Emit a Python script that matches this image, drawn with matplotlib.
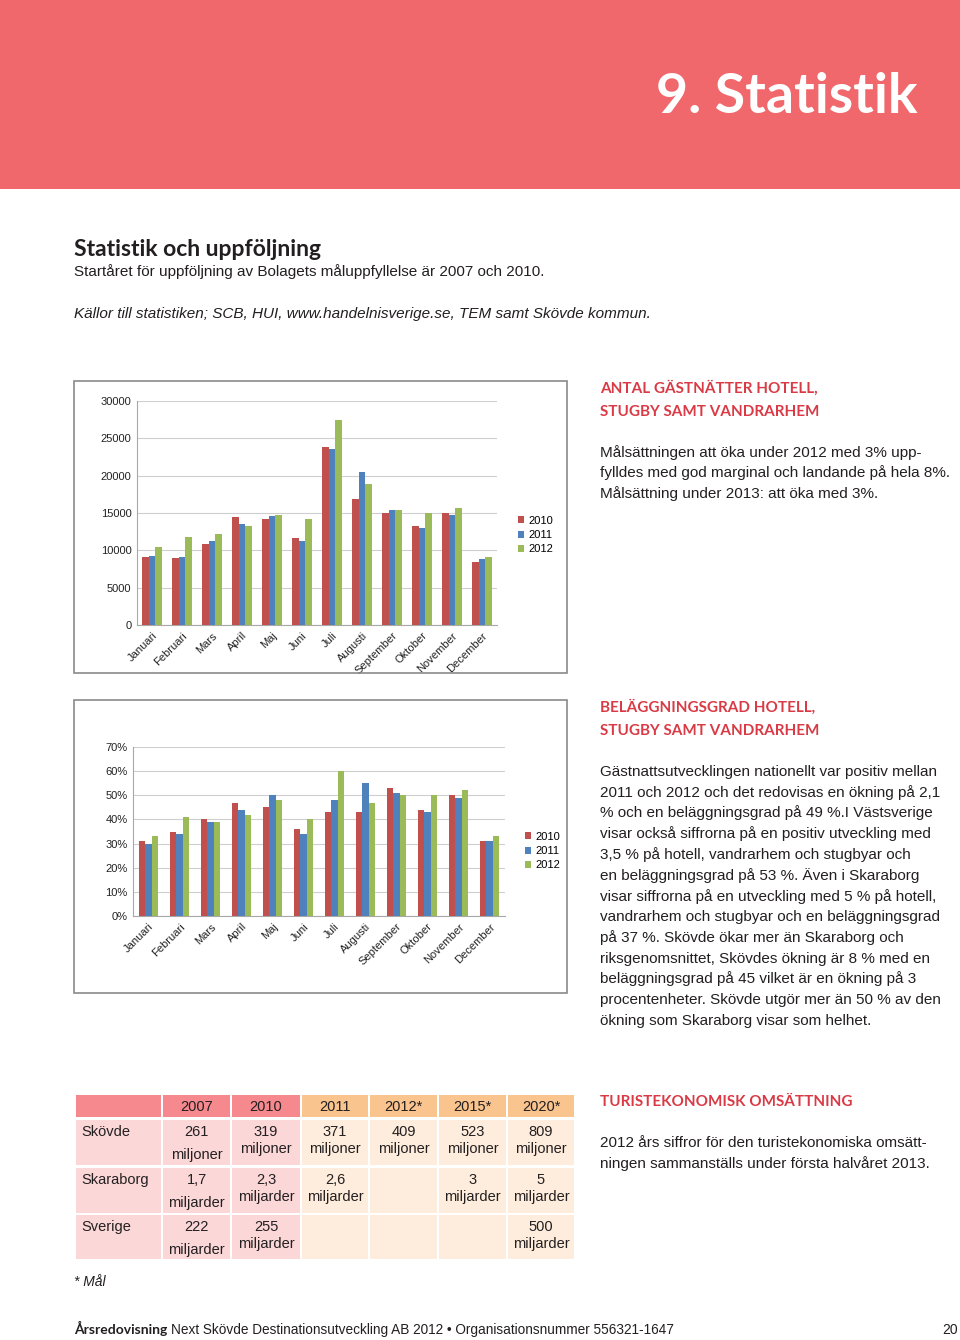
import matplotlib
matplotlib.use('Agg')
import matplotlib.pyplot as plt
import numpy as np
from matplotlib.patches import Rectangle
from matplotlib.ticker import PercentFormatter

# --- data ---
months = ['Januari', 'Februari', 'Mars', 'April', 'Maj', 'Juni', 'Juli',
          'Augusti', 'September', 'Oktober', 'November', 'December']
years = ['2010', '2011', '2012']

# gästnätter per month
nights_2010 = [9100, 9000, 10900, 14400, 14200, 11600, 23900, 16900, 15000, 13200, 15000, 8400]
nights_2011 = [9200, 9100, 11300, 13500, 14600, 11200, 23600, 20500, 15400, 13000, 14700, 8900]
nights_2012 = [10500, 11800, 12200, 13200, 14700, 14200, 27500, 18900, 15400, 15000, 15700, 9100]

# beläggningsgrad per month (%)
occ_2010 = [31, 35, 40, 47, 45, 36, 43, 43, 53, 44, 50, 31]
occ_2011 = [30, 34, 39, 44, 50, 34, 48, 55, 51, 43, 49, 31]
occ_2012 = [33, 41, 39, 42, 48, 40, 60, 47, 50, 50, 52, 33]

# turistekonomisk omsättning table
tbl_years = ['2007', '2010', '2011', '2012*', '2015*', '2020*']
tbl_rows = ['Skövde', 'Skaraborg', 'Sverige']
tbl_units = ['miljoner', 'miljarder', 'miljarder']
skovde = ['261', '319', '371', '409', '523', '809']
skaraborg = ['1,7', '2,3', '2,6', '', '3', '5']
sverige = ['222', '255', '', '', '', '500']

bar_colors = ['#C0504D', '#4F81BD', '#9BBB59']
red_head = '#D93A45'
body_font = 'Liberation Sans'
head_font = 'Lato'

W, H = 960, 1340
fig = plt.figure(figsize=(9.6, 13.4), dpi=100)


def fx(x):
    return x / W


def fy(y):
    return 1 - y / H


def txt(x, y, s, **kw):
    kw.setdefault('family', body_font)
    kw.setdefault('color', '#231F20')
    kw.setdefault('va', 'baseline')
    return fig.text(fx(x), fy(y), s, **kw)


def rect(x0, y0, x1, y1, **kw):
    kw.setdefault('zorder', -1)
    fig.patches.append(Rectangle((fx(x0), fy(y1)), fx(x1) - fx(x0), fy(y0) - fy(y1),
                                 transform=fig.transFigure, **kw))


# header band
rect(0, 0, W, 189, facecolor='#F0686C', edgecolor='none')
txt(918, 113, '9. Statistik', family=head_font, weight='bold', size=40,
    color='white', ha='right')

# intro
txt(74, 256, 'Statistik och uppföljning', family=head_font, weight='bold', size=16.5)
txt(74, 276, 'Startåret för uppföljning av Bolagets måluppfyllelse är 2007 och 2010.', size=11)
txt(74, 318, 'Källor till statistiken; SCB, HUI, www.handelnisverige.se, TEM samt Skövde kommun.',
    size=11, style='italic')


def bar_chart(rect_px, box_px, series, ylim, yticks, legend_xy, pct=False):
    x0, y0, x1, y1 = rect_px
    rect(*box_px, facecolor='none', edgecolor='#8A8A8A', lw=1.2, zorder=5)
    ax = fig.add_axes([fx(x0), fy(y1), fx(x1) - fx(x0), fy(y0) - fy(y1)])
    x = np.arange(len(months))
    w = 0.215
    for i, (vals, c) in enumerate(zip(series, bar_colors)):
        ax.bar(x + (i - 1) * w, vals, width=w, color=c, label=years[i], zorder=3)
    ax.set_xlim(-0.5, len(months) - 0.5)
    ax.set_ylim(*ylim)
    ax.set_yticks(yticks)
    if pct:
        ax.yaxis.set_major_formatter(PercentFormatter(decimals=0))
    ax.grid(axis='y', color='#CFCFCF', lw=0.8, zorder=0)
    for s in ['top', 'right']:
        ax.spines[s].set_visible(False)
    for s in ['left', 'bottom']:
        ax.spines[s].set_color('#A8A8A8')
    ax.set_xticks(x)
    ax.set_xticklabels(months, rotation=45, ha='right', rotation_mode='anchor')
    ax.tick_params(length=0, labelsize=8, colors='#222222', pad=4)
    for lab in ax.get_xticklabels() + ax.get_yticklabels():
        lab.set_family(body_font)
    ax.set_facecolor('none')
    fig.legend(*ax.get_legend_handles_labels(), loc='upper left',
               bbox_to_anchor=(fx(legend_xy[0]), fy(legend_xy[1])),
               frameon=False, handlelength=0.6, handleheight=0.6,
               handletextpad=0.4, labelspacing=0.4, borderpad=0,
               prop={'family': body_font, 'size': 8})
    return ax


bar_chart((137, 401, 497, 625), (74, 381, 567, 673),
          [nights_2010, nights_2011, nights_2012], (0, 30000),
          range(0, 30001, 5000), (512, 510))
bar_chart((133, 747, 505, 916), (74, 700, 567, 993),
          [occ_2010, occ_2011, occ_2012], (0, 70),
          range(0, 71, 10), (519, 826), pct=True)

# right-hand texts
txt(600, 393, 'ANTAL GÄSTNÄTTER HOTELL,', family=head_font, weight='bold', size=11, color=red_head)
txt(600, 416, 'STUGBY SAMT VANDRARHEM', family=head_font, weight='bold', size=11, color=red_head)
block1 = ['Målsättningen att öka under 2012 med 3% upp-',
          'fylldes med god marginal och landande på hela 8%.',
          'Målsättning under 2013: att öka med 3%.']
for i, line in enumerate(block1):
    txt(600, 457 + i * 20.5, line, size=11)

txt(600, 712, 'BELÄGGNINGSGRAD HOTELL,', family=head_font, weight='bold', size=11, color=red_head)
txt(600, 735, 'STUGBY SAMT VANDRARHEM', family=head_font, weight='bold', size=11, color=red_head)
block2 = ['Gästnattsutvecklingen nationellt var positiv mellan',
          '2011 och 2012 och det redovisas en ökning på 2,1',
          '% och en beläggningsgrad på 49 %.I Västsverige',
          'visar också siffrorna på en positiv utveckling med',
          '3,5 % på hotell, vandrarhem och stugbyar och',
          'en beläggningsgrad på 53 %. Även i Skaraborg',
          'visar siffrorna på en utveckling med 5 % på hotell,',
          'vandrarhem och stugbyar och en beläggningsgrad',
          'på 37 %. Skövde ökar mer än Skaraborg och',
          'riksgenomsnittet, Skövdes ökning är 8 % med en',
          'beläggningsgrad på 45 vilket är en ökning på 3',
          'procentenheter. Skövde utgör mer än 50 % av den',
          'ökning som Skaraborg visar som helhet.']
for i, line in enumerate(block2):
    txt(600, 776 + i * 20.75, line, size=11)

txt(600, 1106, 'TURISTEKONOMISK OMSÄTTNING', family=head_font, weight='bold', size=11, color=red_head)
block3 = ['2012 års siffror för den turistekonomiska omsätt-',
          'ningen sammanställs under första halvåret 2013.']
for i, line in enumerate(block3):
    txt(600, 1147 + i * 20.75, line, size=11)

# table
col_edges = [(76, 161), (163, 230), (232, 300), (302, 368), (370, 437), (439, 506), (508, 574)]
row_edges = [(1120, 1165), (1168, 1213), (1215, 1259)]
head_y = (1095, 1117)
for j, (a, b) in enumerate(col_edges):
    pinkish = j < 3
    rect(a, head_y[0], b, head_y[1], facecolor='#F5898D' if pinkish else '#F9C48E', edgecolor='none')
    for (r0, r1) in row_edges:
        rect(a, r0, b, r1, facecolor='#FBD7D8' if pinkish else '#FEEDDC', edgecolor='none')
for j, yr in enumerate(tbl_years):
    a, b = col_edges[j + 1]
    txt((a + b) / 2, 1111, yr, size=10.5, ha='center')
for i, (name, vals, unit) in enumerate(zip(tbl_rows, [skovde, skaraborg, sverige], tbl_units)):
    r0 = row_edges[i][0]
    txt(81, r0 + 16, name, size=10.5)
    for j, v in enumerate(vals):
        if not v:
            continue
        a, b = col_edges[j + 1]
        cx = (a + b) / 2
        txt(cx, r0 + 16, v, size=10.5, ha='center')
        txt(cx, r0 + (39 if j == 0 else 33), unit, size=10.5, ha='center')
txt(74, 1286, '* Mål', size=10, style='italic')

# footer
t1 = txt(74, 1334, 'Årsredovisning', family=head_font, weight='bold', size=10)
fig.canvas.draw()
bb = t1.get_window_extent(fig.canvas.get_renderer())
txt(bb.x1 + 4, 1334, 'Next Skövde Destinationsutveckling AB 2012 • Organisationsnummer 556321-1647', size=9.8)
txt(958, 1334, '20', size=10, ha='right')

fig.savefig('out.png', dpi=100)
